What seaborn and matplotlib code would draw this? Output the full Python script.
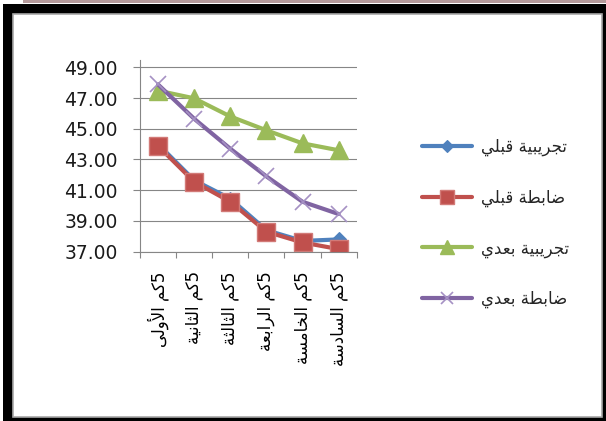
import numpy as np
import pandas as pd
import matplotlib
matplotlib.use("Agg")
import matplotlib.pyplot as plt
from matplotlib.patches import Rectangle
from matplotlib.ticker import FixedLocator
import seaborn as sns

# ---- data -------------------------------------------------------------
segments = ["5كم الأولى", "5كم الثانية", "5كم الثالثة",
            "5كم الرابعة", "5كم الخامسة", "5كم السادسة"]
series_names = ["تجريبية قبلي", "ضابطة قبلي", "تجريبية بعدي", "ضابطة بعدي"]
exp_pre = [44.00, 41.65, 40.45, 38.40, 37.70, 37.80]
ctl_pre = [43.88, 41.55, 40.25, 38.30, 37.60, 37.17]
exp_post = [47.48, 46.98, 45.80, 44.90, 44.05, 43.60]
ctl_post = [47.88, 45.65, 43.70, 41.90, 40.25, 39.45]
y_ticks = [37, 39, 41, 43, 45, 47, 49]

# ---- minimal Arabic shaping (presentation forms, visual order) --------
FORMS = {
    "ا": ("\uFE8D", "\uFE8E"), "أ": ("\uFE83", "\uFE84"),
    "ب": ("\uFE8F", "\uFE90", "\uFE91", "\uFE92"),
    "ة": ("\uFE93", "\uFE94"),
    "ت": ("\uFE95", "\uFE96", "\uFE97", "\uFE98"),
    "ث": ("\uFE99", "\uFE9A", "\uFE9B", "\uFE9C"),
    "ج": ("\uFE9D", "\uFE9E", "\uFE9F", "\uFEA0"),
    "خ": ("\uFEA5", "\uFEA6", "\uFEA7", "\uFEA8"),
    "د": ("\uFEA9", "\uFEAA"), "ر": ("\uFEAD", "\uFEAE"),
    "س": ("\uFEB1", "\uFEB2", "\uFEB3", "\uFEB4"),
    "ض": ("\uFEBD", "\uFEBE", "\uFEBF", "\uFEC0"),
    "ط": ("\uFEC1", "\uFEC2", "\uFEC3", "\uFEC4"),
    "ع": ("\uFEC9", "\uFECA", "\uFECB", "\uFECC"),
    "ق": ("\uFED5", "\uFED6", "\uFED7", "\uFED8"),
    "ك": ("\uFED9", "\uFEDA", "\uFEDB", "\uFEDC"),
    "ل": ("\uFEDD", "\uFEDE", "\uFEDF", "\uFEE0"),
    "م": ("\uFEE1", "\uFEE2", "\uFEE3", "\uFEE4"),
    "ن": ("\uFEE5", "\uFEE6", "\uFEE7", "\uFEE8"),
    "و": ("\uFEED", "\uFEEE"), "ى": ("\uFEEF", "\uFEF0"),
    "ي": ("\uFEF1", "\uFEF2", "\uFEF3", "\uFEF4"),
}
LAM_ALEF = {"ا": ("\uFEFB", "\uFEFC"), "أ": ("\uFEF7", "\uFEF8")}


def shape_arabic(text):
    tokens, i = [], 0
    while i < len(text):
        c = text[i]
        if c == "ل" and i + 1 < len(text) and text[i + 1] in LAM_ALEF:
            tokens.append(LAM_ALEF[text[i + 1]])
            i += 2
        else:
            tokens.append(FORMS.get(c, c))
            i += 1

    def is_letter(t):
        return isinstance(t, tuple)

    def links_forward(t):
        return is_letter(t) and len(t) == 4

    out = []
    for k, t in enumerate(tokens):
        if not is_letter(t):
            out.append(t)
            continue
        prev = tokens[k - 1] if k > 0 else None
        nxt = tokens[k + 1] if k + 1 < len(tokens) else None
        join_prev = prev is not None and links_forward(prev)
        join_next = nxt is not None and is_letter(nxt) and links_forward(t)
        if join_prev and join_next:
            out.append(t[3])
        elif join_prev:
            out.append(t[1])
        elif join_next:
            out.append(t[2])
        else:
            out.append(t[0])
    return "".join(reversed(out))


# ---- frame ---------------------------------------------------------------
W, H = 606, 421
sns.set_theme(style="white")
plt.rcParams["font.family"] = ["DejaVu Sans"]

fig = plt.figure(figsize=(W / 100, H / 100), dpi=100)
fig.patch.set_facecolor("white")


def px_rect(x0, y0, x1, y1, **kw):
    r = Rectangle((x0 / W, 1 - y1 / H), (x1 - x0) / W, (y1 - y0) / H,
                  transform=fig.transFigure, **kw)
    fig.add_artist(r)
    r.set_zorder(-10)
    return r


px_rect(23, 0, 606, 3, facecolor="#b59a9b", edgecolor="none")
px_rect(3, 4, 606, 421, facecolor="black", edgecolor="none")
px_rect(12.5, 14, 602, 416.5, facecolor="white", edgecolor="#a8a8a8", linewidth=1.2)

# ---- plot ---------------------------------------------------------------
ax = fig.add_axes([140 / W, (H - 251.7) / H, 216.7 / W, 192.1 / H])
ax.set_facecolor("none")

x = np.arange(len(segments))
df = pd.DataFrame({"pos": np.tile(x, 4),
                   "value": exp_pre + ctl_pre + exp_post + ctl_post,
                   "series": np.repeat(series_names, len(segments))})

styles = {
    series_names[0]: dict(color="#4f81bd", marker="D", markersize=7.5,
                          markeredgecolor="#4f81bd", markeredgewidth=0.8),
    series_names[1]: dict(color="#c0504d", marker="s", markersize=12.5,
                          markeredgecolor="#d27a77", markeredgewidth=1.0),
    series_names[2]: dict(color="#9bbb59", marker="^", markersize=13,
                          markeredgecolor="#9bbb59", markeredgewidth=1.0),
    series_names[3]: dict(color="#8064a2", marker="x", markersize=12,
                          markeredgecolor="#a591c4", markeredgewidth=1.2),
}
for name in series_names:
    sub = df[df["series"] == name]
    sns.lineplot(data=sub, x="pos", y="value", ax=ax, label=shape_arabic(name),
                 linewidth=3.0, solid_capstyle="round", **styles[name])

ax.set_xlim(-0.5, len(segments) - 0.5)
ax.set_ylim(37, 49.5)
ax.set_yticks(y_ticks)
ax.set_yticklabels([f"{v:.2f}" for v in y_ticks], fontsize=13.5, color="#1a1a1a")
ax.set_xticks(x)
ax.set_xticklabels([shape_arabic(s) for s in segments], rotation=90,
                   fontsize=12, color="black", va="top", ha="center")
ax.xaxis.set_minor_locator(FixedLocator(np.arange(-0.5, len(segments), 1.0)))
ax.tick_params(axis="x", which="major", length=0, pad=14)
ax.tick_params(axis="x", which="minor", length=4, width=0.8, color="#868686",
               direction="out", bottom=True)
ax.tick_params(axis="y", which="major", length=5, width=0.8, color="#868686",
               direction="out", left=True, pad=11)
ax.set_xlabel("")
ax.set_ylabel("")
ax.grid(axis="y", color="#868686", linewidth=0.8)
ax.grid(axis="x", visible=False)
for side in ("top", "right"):
    ax.spines[side].set_visible(False)
for side in ("left", "bottom"):
    ax.spines[side].set_color("#868686")
    ax.spines[side].set_linewidth(0.8)

handles, labels = ax.get_legend_handles_labels()
ax.legend_.remove()
fig.legend(handles, labels, loc="center left",
           bbox_to_anchor=(414 / W, 1 - 223 / H), frameon=False,
           fontsize=12, handlelength=3.0, handletextpad=0.5,
           labelspacing=1.95, borderpad=0, markerscale=0.75)

fig.savefig("out.png", dpi=100)
